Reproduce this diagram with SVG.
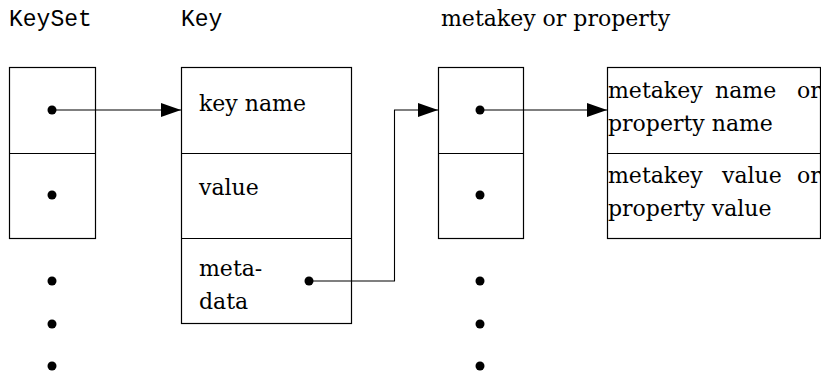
<svg xmlns="http://www.w3.org/2000/svg" width="821" height="378" viewBox="0 0 821 378">
<style>
.box{fill:#fff;stroke:#000;stroke-width:1.2}
.div{stroke:#000;stroke-width:1}
.t{font-family:'DejaVu Serif',serif;font-size:22px;fill:#000}
.tt{font-family:'Liberation Mono','DejaVu Sans Mono',monospace;font-size:23px;fill:#000}
.dot{fill:#000}
.wire{fill:none;stroke:#000;stroke-width:1.1}
</style>
<defs>
<marker id="arr" markerWidth="20" markerHeight="14" refX="20" refY="7" orient="auto" markerUnits="userSpaceOnUse">
<path d="M0,0 L20,7 L0,14 Z" fill="#000"/>
</marker>
</defs>
<g id="labels">
<text class="tt" x="9" y="26">KeySet</text>
<text class="tt" x="181" y="26">Key</text>
<text class="t" x="441" y="26">metakey or property</text>
</g>
<g id="keyset">
<rect class="box" x="9.5" y="67.5" width="86" height="171"/>
<line class="div" x1="9.5" y1="153.5" x2="95.5" y2="153.5"/>
<circle class="dot" cx="52" cy="110" r="4.5"/>
<circle class="dot" cx="52" cy="195" r="4.5"/>
<circle class="dot" cx="52" cy="281" r="4.5"/>
<circle class="dot" cx="52" cy="324" r="4.5"/>
<circle class="dot" cx="52" cy="366" r="4.5"/>
</g>
<g id="key">
<rect class="box" x="181.5" y="67.5" width="170" height="256"/>
<line class="div" x1="181.5" y1="153.5" x2="351.5" y2="153.5"/>
<line class="div" x1="181.5" y1="238.5" x2="351.5" y2="238.5"/>
<text class="t" x="199" y="111">key name</text>
<text class="t" x="199" y="195">value</text>
<text class="t" x="199" y="276">meta-</text>
<text class="t" x="199" y="309">data</text>
<circle class="dot" cx="309" cy="281" r="4.5"/>
</g>
<g id="metakeys">
<rect class="box" x="438.5" y="67.5" width="85" height="171"/>
<line class="div" x1="438.5" y1="153.5" x2="523.5" y2="153.5"/>
<circle class="dot" cx="480" cy="110" r="4.5"/>
<circle class="dot" cx="480" cy="195" r="4.5"/>
<circle class="dot" cx="480" cy="281" r="4.5"/>
<circle class="dot" cx="480" cy="324" r="4.5"/>
<circle class="dot" cx="480" cy="366" r="4.5"/>
</g>
<g id="property">
<rect class="box" x="607.5" y="67.5" width="213" height="171"/>
<line class="div" x1="607.5" y1="153.5" x2="820.5" y2="153.5"/>
<text class="t" x="608" y="98">metakey</text>
<text class="t" x="715" y="98">name</text>
<text class="t" x="797" y="98">or</text>
<text class="t" x="608" y="131">property name</text>
<text class="t" x="608" y="183">metakey</text>
<text class="t" x="722" y="183">value</text>
<text class="t" x="797" y="183">or</text>
<text class="t" x="608" y="216">property value</text>
</g>
<g id="connectors">
<path class="wire" d="M52,110 H181" marker-end="url(#arr)"/>
<path class="wire" d="M309,281 H394.5 V110 H438" marker-end="url(#arr)"/>
<path class="wire" d="M480,110 H607" marker-end="url(#arr)"/>
</g>
</svg>
